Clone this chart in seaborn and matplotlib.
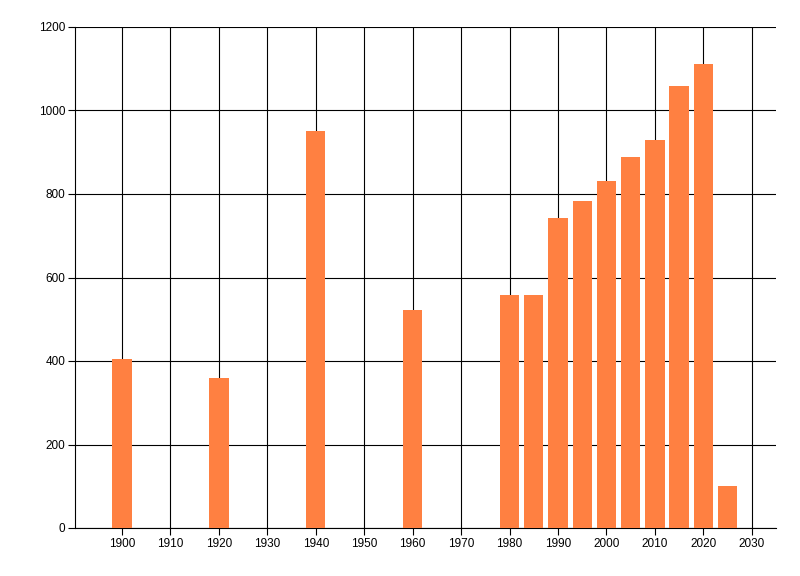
import matplotlib
matplotlib.use("Agg")
import matplotlib.pyplot as plt
import seaborn as sns
import pandas as pd

years = [1900, 1920, 1940, 1960, 1980, 1985, 1990, 1995, 2000, 2005, 2010, 2015, 2020, 2025]
values = [404, 359, 951, 522, 558, 558, 742, 783, 830, 889, 929, 1058, 1111, 100]
x_ticks = list(range(1900, 2031, 10))
y_ticks = [0, 200, 400, 600, 800, 1000, 1200]

sns.set_theme(style="white")
plt.rcParams['font.family'] = ['Liberation Sans', 'DejaVu Sans']

df = pd.DataFrame({"year": years, "value": values})

fig = plt.figure(figsize=(8, 5.76), dpi=100)
ax = fig.add_axes([75/800, 1 - 528/576, (776-75)/800, (528-27)/576])

sns.barplot(data=df, x="year", y="value", native_scale=True, color="#FF8041",
            saturation=1, width=0.8, ax=ax, zorder=3, linewidth=0, edgecolor="none")

ax.set_xlim(1890.3, 2035)
ax.set_ylim(0, 1200)
ax.set_xticks(x_ticks)
ax.set_xticklabels([str(t) for t in x_ticks])
ax.set_yticks(y_ticks)
ax.set_yticklabels([str(t) for t in y_ticks])
ax.set_xlabel("")
ax.set_ylabel("")

ax.grid(True, color="black", linewidth=0.8)
ax.set_axisbelow(True)
for s in ["top", "right"]:
    ax.spines[s].set_visible(False)
for s in ["left", "bottom"]:
    ax.spines[s].set_color("black")
    ax.spines[s].set_linewidth(0.8)

ax.tick_params(axis="both", which="major", direction="out", length=5, width=0.8,
               color="black", labelsize=8.5, labelcolor="black", pad=2,
               left=True, bottom=True)

fig.savefig("out.png", dpi=100)
